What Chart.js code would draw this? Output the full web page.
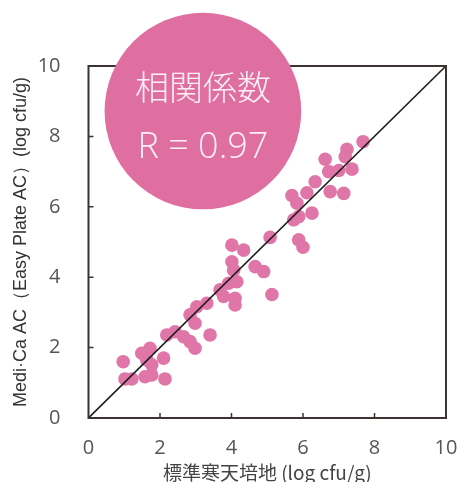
<!DOCTYPE html>
<html>
<head>
<meta charset="utf-8">
<script src="https://cdn.jsdelivr.net/npm/chart.js@4"></script>
<style>
  html, body { margin: 0; padding: 0; background: #fff; }
  #wrap { width: 458px; height: 482px; }
</style>
</head>
<body>
<div id="wrap"><canvas id="c" width="458" height="482"></canvas></div>
<script>
// ── data ──
const AGAR_X = [
  7.68, 7.23, 7.18, 6.62, 6.72, 7.00, 7.37, 6.34, 6.76, 7.14,
  6.11, 5.69, 5.83, 6.25, 5.74, 5.88, 5.08, 5.88, 6.00, 4.01,
  4.34, 4.01, 4.06, 4.66, 4.90, 5.13, 4.15, 3.92, 3.68, 3.78,
  4.10, 4.10, 3.31, 3.03, 2.84, 2.98, 3.40, 2.19, 2.42, 2.66,
  2.84, 2.98, 1.72, 1.49, 1.63, 1.77, 2.10, 0.97, 1.02, 1.21,
  1.58, 1.77, 2.14
];
const PLATE_Y = [
  7.85, 7.63, 7.42, 7.35, 7.00, 7.03, 7.07, 6.71, 6.43, 6.38,
  6.40, 6.32, 6.10, 5.82, 5.63, 5.72, 5.13, 5.06, 4.85, 4.91,
  4.77, 4.44, 4.20, 4.30, 4.16, 3.51, 3.87, 3.83, 3.64, 3.45,
  3.40, 3.21, 3.26, 3.16, 2.93, 2.69, 2.36, 2.36, 2.45, 2.31,
  2.17, 1.98, 1.98, 1.84, 1.65, 1.51, 1.70, 1.60, 1.11, 1.11,
  1.17, 1.22, 1.11
];
const DIAG = [0, 10];
const TICKS = [0, 2, 4, 6, 8, 10];

const X_TITLE = '標準寒天培地 (log cfu/g)';
const Y_TITLE = 'Medi·Ca AC（Easy Plate AC）(log cfu/g)';
const BADGE_LINES = ['相関係数', 'R = 0.97'];
const BADGE_AT = { x: 3.2, y: 8.72, r: 2.75 };   // centre + radius in data units

const PINK = '#df6fa0';
const DOT = '#e076a8';
const AXIS = '#3b3430';

// box + inward ticks, then the correlation badge on top
const framePlugin = {
  id: 'frame',
  afterDraw(chart) {
    const { ctx, chartArea: a, scales: { x, y } } = chart;
    ctx.save();
    ctx.strokeStyle = AXIS;
    ctx.lineWidth = 2;
    ctx.strokeRect(a.left, a.top, a.right - a.left, a.bottom - a.top);
    ctx.lineWidth = 1.5;
    ctx.beginPath();
    TICKS.slice(1, -1).forEach((v) => {
      const px = x.getPixelForValue(v);
      ctx.moveTo(px, a.bottom);
      ctx.lineTo(px, a.bottom - 5);
      const py = y.getPixelForValue(v);
      ctx.moveTo(a.left, py);
      ctx.lineTo(a.left + 5, py);
    });
    ctx.stroke();

    // badge
    const cx = x.getPixelForValue(BADGE_AT.x);
    const cy = y.getPixelForValue(BADGE_AT.y);
    const r = x.getPixelForValue(BADGE_AT.x + BADGE_AT.r) - cx;
    ctx.fillStyle = PINK;
    ctx.beginPath();
    ctx.arc(cx, cy, r, 0, Math.PI * 2);
    ctx.fill();
    ctx.fillStyle = '#fdf0f5';
    ctx.textAlign = 'center';
    ctx.textBaseline = 'middle';
    ctx.font = '300 34px "Noto Sans CJK JP"';
    ctx.fillText(BADGE_LINES[0], cx, cy - 24);
    ctx.font = '300 36px "Open Sans", "Noto Sans"';
    ctx.fillText(BADGE_LINES[1], cx, cy + 37);
    ctx.restore();
  },
};

const tickFont = { family: '"Open Sans", "Noto Sans", sans-serif', size: 20 };

new Chart(document.getElementById('c'), {
  type: 'scatter',
  data: {
    datasets: [
      {
        type: 'line',
        data: DIAG.map((v) => ({ x: v, y: v })),
        borderColor: '#1e1e1e',
        borderWidth: 1.6,
        pointRadius: 0,
        order: 0,
      },
      {
        data: AGAR_X.map((v, i) => ({ x: v, y: PLATE_Y[i] })),
        backgroundColor: DOT,
        borderWidth: 0,
        pointRadius: 6.8,
        order: 1,
      },
    ],
  },
  options: {
    responsive: false,
    animation: false,
    layout: { padding: { top: 66, right: 0, left: 0, bottom: 0 } },
    plugins: { legend: { display: false }, tooltip: { enabled: false } },
    scales: {
      x: {
        type: 'linear',
        min: 0,
        max: 10,
        afterBuildTicks: (s) => { s.ticks = TICKS.map((v) => ({ value: v })); },
        afterFit: (s) => { s.height = 64; s.paddingRight = 12; s.paddingLeft = 0; },
        grid: { display: false },
        border: { display: false },
        ticks: { color: '#555', font: tickFont, padding: 10 },
        title: {
          display: true,
          text: X_TITLE,
          color: '#444',
          font: { family: '"Noto Sans CJK JP", sans-serif', size: 19, lineHeight: 1 },
          padding: { top: 0, bottom: 0 },
        },
      },
      y: {
        type: 'linear',
        min: 0,
        max: 10,
        afterBuildTicks: (s) => { s.ticks = TICKS.map((v) => ({ value: v })); },
        afterFit: (s) => { s.width = 88.5; },
        grid: { display: false },
        border: { display: false },
        ticks: { color: '#555', font: tickFont, padding: 20 },
        title: {
          display: true,
          text: Y_TITLE,
          color: '#333',
          font: { family: '"Liberation Sans", Arial, sans-serif', size: 18, lineHeight: 1 },
          padding: { top: 12, bottom: 0 },
        },
      },
    },
  },
  plugins: [framePlugin],
});
</script>
</body>
</html>
